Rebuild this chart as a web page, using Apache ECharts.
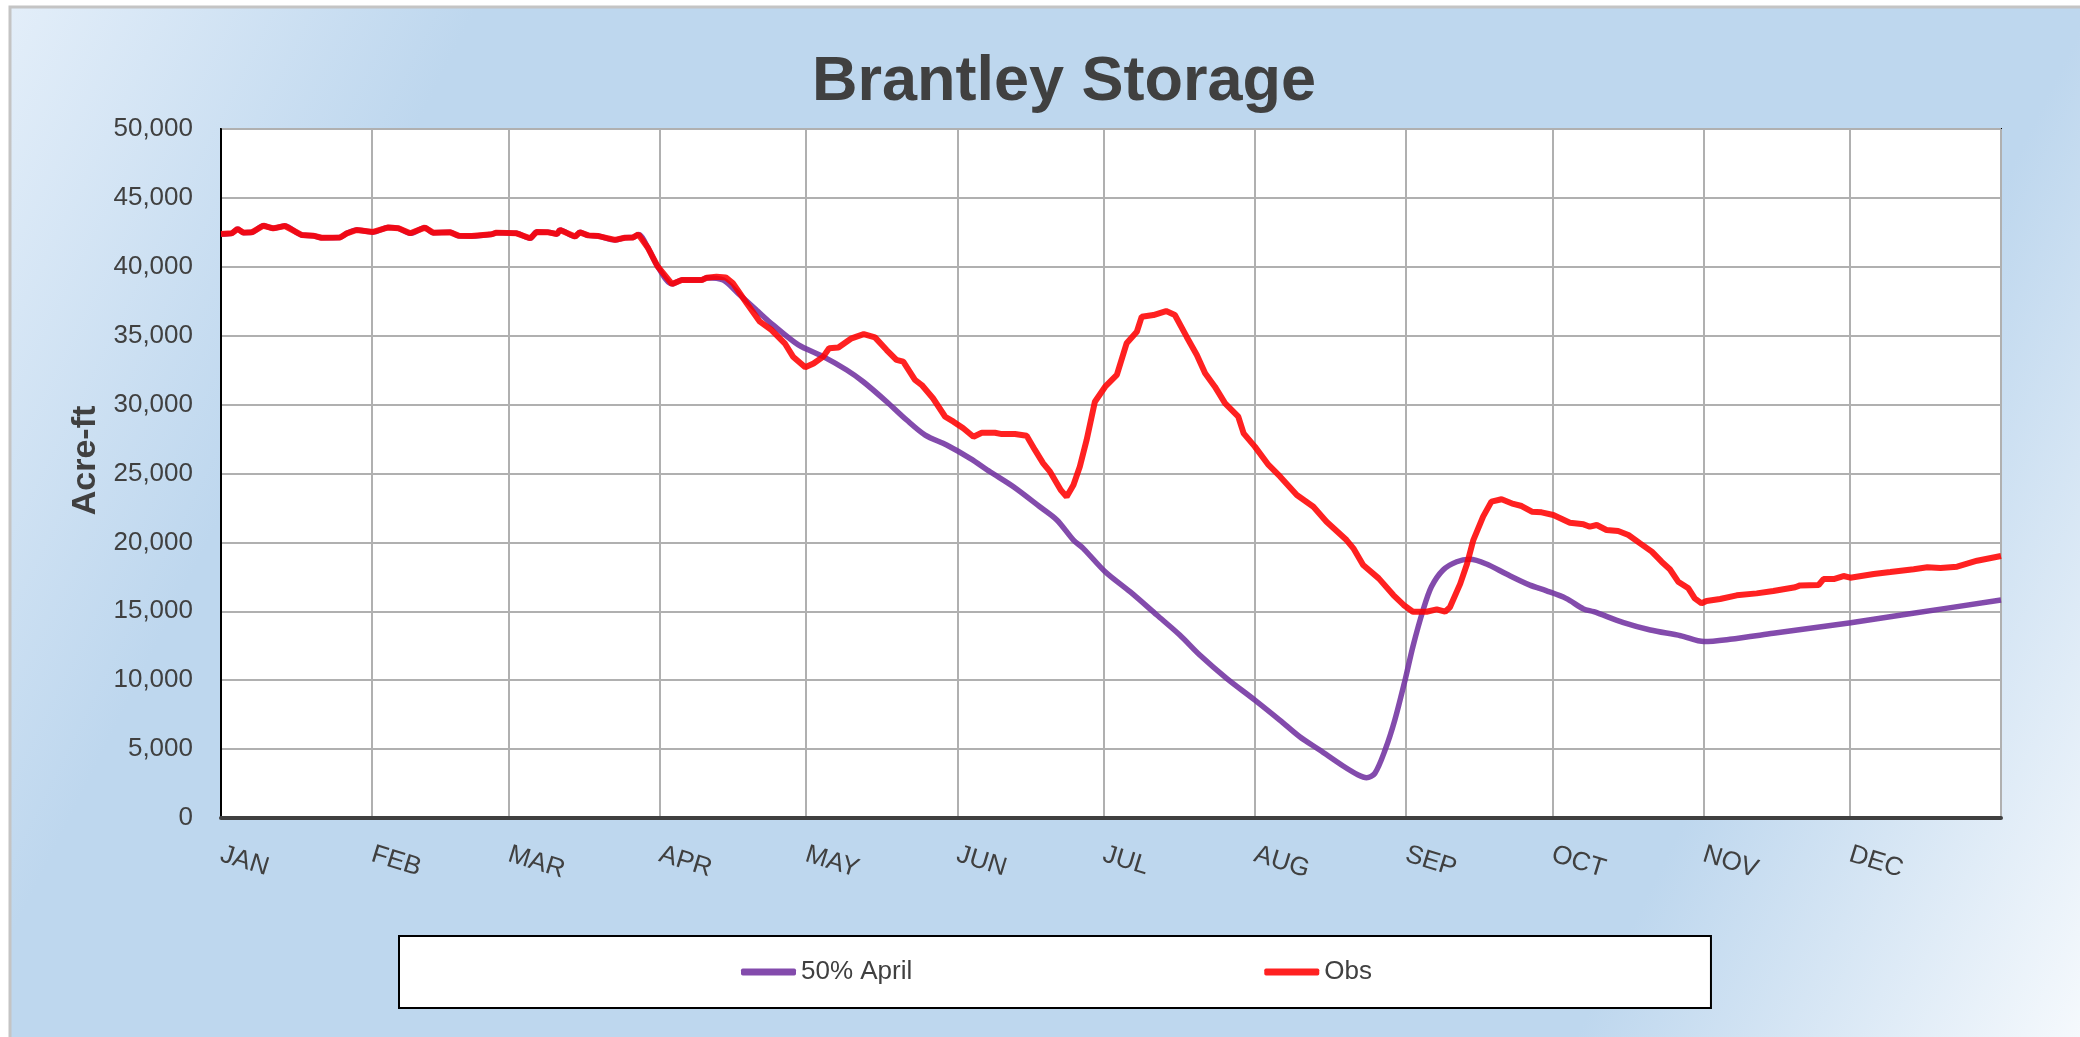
<!DOCTYPE html>
<html>
<head>
<meta charset="utf-8">
<script src="https://cdn.jsdelivr.net/npm/echarts@6/dist/echarts.min.js"></script>
<style>
html,body{margin:0;padding:0;background:#ffffff;}
#chart{width:2080px;height:1037px;}
</style>
</head>
<body>
<div id="chart"></div>
<script>
// ---- tick labels ----
const months = ['JAN','FEB','MAR','APR','MAY','JUN','JUL','AUG','SEP','OCT','NOV','DEC'];
const monthStartDays = [0,31,59,90,120,151,181,212,243,273,304,334];
const yearEndDay = 365;

// ---- Obs series (day of year, acre-ft) ----
const obsDays = [0,2.2,3.4,4.6,6.3,8.7,10.7,13.1,16.5,18.9,20.6,24.4,25.8,27.8,31.2,34.3,36.4,38.8,41.8,43.5,47,48.7,51.4,55.5,56.5,60.6,63.4,64.7,67.1,68.9,69.5,72.6,73.6,75.3,77.4,80.8,82.8,84.5,85.6,87.6,89.5,92.5,94.5,98.6,99.6,101.6,103.5,105,107.8,110.5,112.9,115.6,117.3,119.8,121.5,123.5,124.7,126.6,129.3,131.8,134.1,136.5,138.5,139.9,142.3,143.7,146,148.5,150.2,152.2,154.3,156,158.7,160.1,162.8,165.2,166.9,168.6,170,172.2,173.4,174.8,176.1,177.5,179.2,181.3,183.7,185.7,187.8,188.8,191.2,193.8,195.6,198,200.1,201.8,203.8,205.9,208.6,209.7,212,214.8,217.2,220.6,224,226.7,230.8,232.2,234.2,237.4,240.4,242.5,244.4,247.2,249.3,251,252,254.1,255.5,256.8,258.8,260.5,262.6,265,266.7,268.8,270.8,273.2,276.6,279.4,280.7,282.1,284.1,286.5,288.6,291,293.4,295.4,297.1,298.8,300.9,302.2,303.6,304.6,307.4,310.8,314.9,318.3,322.8,323.8,327.6,328.6,330.7,332.7,334.1,338.9,342.3,347.1,349.9,352.6,356,360.1,365];
const obsValues = [42380,42430,42740,42480,42500,42980,42790,42960,42310,42260,42110,42130,42430,42670,42530,42860,42790,42430,42840,42480,42500,42260,42230,42360,42480,42430,42070,42520,42500,42380,42670,42190,42500,42280,42230,41950,42110,42130,42350,41340,40050,38750,39040,39040,39210,39280,39230,38800,37350,36020,35410,34450,33480,32710,32980,33480,34090,34140,34810,35120,34880,33960,33240,33120,31790,31420,30460,29120,28760,28280,27670,27960,27960,27860,27860,27740,26710,25740,25130,23800,23320,24170,25490,27430,30210,31300,32150,34450,35290,36380,36500,36790,36500,34930,33600,32270,31300,30090,29120,27910,26950,25620,24770,23440,22590,21500,20170,19570,18360,17390,16180,15460,14970,14970,15140,14970,15290,16990,18430,20170,21870,22960,23130,22790,22640,22230,22180,21990,21430,21310,21140,21260,20900,20830,20540,19930,19330,18600,18050,17150,16670,15940,15580,15750,15890,16160,16300,16470,16740,16880,16910,17340,17340,17560,17440,17710,17850,18050,18190,18140,18240,18670,19010];

// ---- 50% April forecast (follows Obs until early April) ----
const aprilOwnDays = [103,106.4,109.8,113.2,118.4,123.5,128.3,131.7,136.5,140.6,144.4,148.8,153.6,157.7,162.5,167.9,171.4,174.8,176.8,181.3,186.4,191.9,196.6,200.7,206.2,212,217.1,221.2,225.3,230.1,233.2,234.9,236.6,238.7,240.7,242.8,244.4,246.5,248.2,250.6,253.4,256.1,259.5,263.6,268.4,271.7,275.8,279.4,281.5,287.6,293.1,299.3,304.1,309.4,318.3,334.2,345.6,365];
const aprilOwnValues = [39040,37950,36860,35780,34330,33480,32510,31660,30210,28880,27790,27070,26100,25130,24040,22590,21630,20170,19570,17870,16420,14730,13280,11830,10140,8560,7110,5900,4930,3770,3120,2920,3240,4930,7110,10010,12430,15090,16780,18000,18600,18770,18430,17700,16900,16500,15940,15170,14970,14170,13640,13230,12800,12970,13400,14170,14780,15820];
const aprilSharedCount = obsDays.filter(d => d <= 99.6).length;
const aprilDays = obsDays.slice(0, aprilSharedCount).concat(aprilOwnDays);
const aprilValues = obsValues.slice(0, aprilSharedCount).concat(aprilOwnValues);

// ---- y axis ----
const yMin = 0, yMax = 50000, yStep = 5000;

const FONT = "'Liberation Sans', Arial, sans-serif";
const TXT = '#404040';
const PURPLE = 'rgba(112,48,160,0.87)';
const RED = 'rgba(255,0,0,0.87)';

const chart = echarts.init(document.getElementById('chart'), null, {renderer: 'canvas'});
const option = {
  animation: false,
  backgroundColor: '#ffffff',
  graphic: [{
    type: 'rect', z: -100, silent: true,
    shape: {x: 10, y: 7, width: 2080, height: 1040},
    style: {
      fill: new echarts.graphic.LinearGradient(0, 0, 1, 1, [
        {offset: 0, color: '#e3eef9'},
        {offset: 0.18, color: '#bed7ee'},
        {offset: 0.8, color: '#bed7ee'},
        {offset: 1, color: '#f7fafd'}
      ]),
      stroke: '#c4c4c4', lineWidth: 3
    }
  }],
  title: {
    text: 'Brantley Storage',
    left: 1059, textAlign: 'center', top: 46,
    textStyle: {fontFamily: FONT, fontSize: 63, fontWeight: 'bold', color: TXT}
  },
  legend: {
    data: ['50% April', 'Obs'],
    left: 399, top: 936,
    padding: [23, 339, 23, 342],
    itemGap: 352, itemWidth: 55, itemHeight: 7,
    icon: 'roundRect',
    backgroundColor: '#ffffff', borderColor: '#000000', borderWidth: 2, borderRadius: 0,
    textStyle: {fontFamily: FONT, fontSize: 26, color: TXT}
  },
  grid: {
    left: 221, right: 79, top: 129, bottom: 219,
    show: true, backgroundColor: '#ffffff', borderColor: '#000000', borderWidth: 2,
    containLabel: false, outerBoundsMode: 'none'
  },
  xAxis: {
    type: 'value', min: 0, max: yearEndDay,
    axisLine: {show: true, onZero: false, lineStyle: {color: '#404040', width: 4}},
    axisTick: {show: false, customValues: monthStartDays.concat([yearEndDay])},
    splitLine: {show: true, lineStyle: {color: '#b0b0b0', width: 2}},
    axisLabel: {
      customValues: monthStartDays,
      formatter: v => months[monthStartDays.indexOf(v)] || '',
      rotate: -17, margin: 36,
      fontFamily: FONT, fontSize: 26, color: TXT
    }
  },
  yAxis: {
    type: 'value', min: yMin, max: yMax, interval: yStep,
    axisLine: {show: true, lineStyle: {color: '#000000', width: 2}},
    axisTick: {show: false},
    splitLine: {show: true, lineStyle: {color: '#b0b0b0', width: 2}},
    axisLabel: {
      formatter: v => v.toLocaleString('en-US'),
      margin: 28, fontFamily: FONT, fontSize: 26, color: TXT
    },
    name: 'Acre-ft', nameLocation: 'middle', nameGap: 118, nameRotate: 90,
    nameTextStyle: {fontFamily: FONT, fontSize: 34, fontWeight: 'bold', color: TXT, padding: [0, 0, 0, 26]}
  },
  series: [
    {
      name: '50% April', type: 'line', symbol: 'none', smooth: 0.3,
      data: aprilDays.map((d, i) => [d, aprilValues[i]]),
      lineStyle: {color: PURPLE, width: 5.5}, itemStyle: {color: PURPLE}, z: 2
    },
    {
      name: 'Obs', type: 'line', symbol: 'none', smooth: false,
      data: obsDays.map((d, i) => [d, obsValues[i]]),
      lineStyle: {color: RED, width: 6}, itemStyle: {color: RED}, z: 3
    }
  ]
};
chart.setOption(option);
</script>
</body>
</html>
